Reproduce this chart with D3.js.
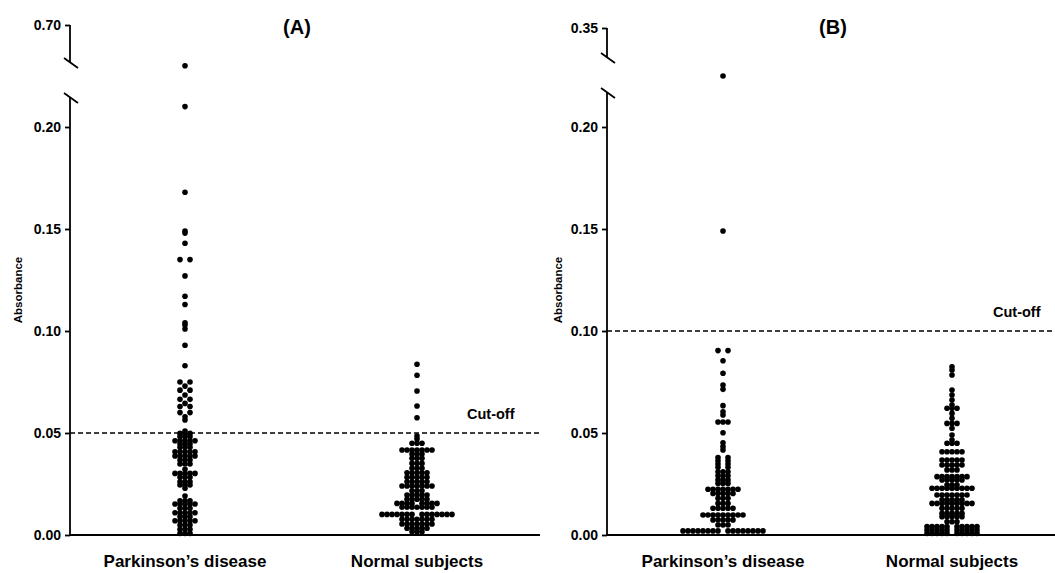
<!DOCTYPE html>
<html>
<head>
<meta charset="utf-8">
<script src="https://cdn.jsdelivr.net/npm/d3@7"></script>
<style>
  body { margin: 0; background: #fff; }
  text { font-family: "Liberation Sans", Arial, sans-serif; font-weight: bold; fill: #000; }
</style>
</head>
<body>
<svg width="1055" height="573"></svg>
<script>
// ---- data: rows of a dot plot (absorbance value, number of dots at that value) ----
var categories = ["Parkinson\u2019s disease", "Normal subjects"];
var yTicks = [0, 0.05, 0.10, 0.15, 0.20];

// panel A
var pdA_vals = [0.230, 0.210, 0.168, 0.149, 0.148, 0.143, 0.135, 0.127, 0.117, 0.113, 0.104, 0.103, 0.101, 0.093, 0.083,
  0.075, 0.073, 0.071, 0.0686, 0.0665, 0.0645, 0.063, 0.060, 0.058, 0.0564, 0.051, 0.0498, 0.0482, 0.0462, 0.0446, 0.043,
  0.0408, 0.0387, 0.0368, 0.0348, 0.0322, 0.0302, 0.0283, 0.0261, 0.0245, 0.0229, 0.0191, 0.0168, 0.0152, 0.0131, 0.0109,
  0.009, 0.007, 0.0049, 0.0028, 0.0008];
var pdA_counts = [1, 1, 1, 1, 1, 1, 2, 1, 1, 1, 1, 1, 1, 1, 1,
  2, 1, 2, 1, 2, 1, 2, 2, 1, 1, 1, 3, 3, 5, 3, 3,
  5, 5, 3, 3, 1, 5, 3, 3, 3, 1, 1, 3, 5, 3, 5,
  3, 5, 3, 3, 3];
var nsA_vals = [0.0837, 0.0783, 0.0706, 0.0632, 0.0575, 0.0485, 0.047, 0.045, 0.0417, 0.0397, 0.0376, 0.0351, 0.0327,
  0.0305, 0.0283, 0.0261, 0.024, 0.0217, 0.0196, 0.0175, 0.0155, 0.0136, 0.0101, 0.0077, 0.0054, 0.0033, 0.0016];
var nsA_counts = [1, 1, 1, 1, 1, 1, 1, 3, 7, 3, 3, 3, 3,
  5, 5, 5, 7, 3, 5, 5, 8, 7, 14, 7, 7, 5, 3];

// panel B
var pdB_vals = [0.225, 0.149, 0.0904, 0.0854, 0.0793, 0.0735, 0.0714, 0.0634, 0.0604, 0.0588, 0.0554, 0.0501, 0.0452,
  0.0433, 0.0417, 0.038, 0.0364, 0.0348, 0.0332, 0.031, 0.029, 0.027, 0.0253, 0.0224, 0.0204, 0.018, 0.0155, 0.0131,
  0.0098, 0.0074, 0.0049, 0.002];
var pdB_counts = [1, 1, 2, 1, 1, 1, 1, 1, 1, 1, 3, 1, 1,
  1, 1, 2, 2, 2, 2, 3, 3, 3, 3, 7, 5, 3, 3, 5,
  9, 5, 3, 16];
var nsB_vals = [0.0825, 0.0809, 0.0784, 0.0711, 0.0686, 0.0662, 0.0637, 0.0621, 0.0596, 0.0572, 0.0547, 0.0523, 0.049,
  0.0466, 0.045, 0.0408, 0.0368, 0.0343, 0.0319, 0.0286, 0.027, 0.0245, 0.0229, 0.0196, 0.0172, 0.0155, 0.0131, 0.0106,
  0.009, 0.0065, 0.0042, 0.0025, 0.0008];
var nsB_counts = [1, 1, 1, 1, 1, 1, 1, 3, 1, 1, 3, 1, 1,
  1, 3, 5, 5, 5, 3, 7, 5, 3, 9, 7, 5, 9, 5, 5,
  5, 3, 10, 10, 10];

var panels = [
  { title: "(A)", cutoff: 0.05, topTick: 0.70,
    groups: [[pdA_vals, pdA_counts], [nsA_vals, nsA_counts]],
    axisX: 70, right: 540, catRange: [185, 417], titleX: 297, labelX: 18,
    cutX: 467, topY: 25, upBreak: 58, lowBreak: 93, lowTop: 97 },
  { title: "(B)", cutoff: 0.10, topTick: 0.35,
    groups: [[pdB_vals, pdB_counts], [nsB_vals, nsB_counts]],
    axisX: 607, right: 1055, catRange: [723, 952], titleX: 833, labelX: 558,
    cutX: 993, topY: 28, upBreak: 53, lowBreak: 88, lowTop: 92 }
];

var svg = d3.select("svg");
var y = d3.scaleLinear().domain([0, 0.20]).range([535, 127]);
var r = 2.8, step = 5;

// spread dots of one row around the category centre
function rowOffsets(n) {
  var out = [];
  if (n % 2 === 1) {
    for (var i = 0; i < n; i++) out.push((i - (n - 1) / 2) * step);
  } else {
    for (var k = 1; k <= n / 2; k++) { out.push(-k * step); out.push(k * step); }
  }
  return out;
}

panels.forEach(function(p) {
  var g = svg.append("g");
  var x = d3.scalePoint().domain(categories).range(p.catRange);
  var yTop = d3.scaleLinear().domain([p.topTick - 0.05, p.topTick]).range([p.topY + 35, p.topY]);

  // lower axis
  g.append("line").attr("x1", p.axisX).attr("x2", p.axisX)
    .attr("y1", y(0)).attr("y2", p.lowTop)
    .attr("stroke", "#000").attr("stroke-width", 1.8);
  var ax = g.append("g").attr("transform", "translate(" + p.axisX + ",0)")
    .call(d3.axisLeft(y).tickValues(yTicks).tickFormat(d3.format(".2f")).tickSize(5).tickPadding(4));
  ax.select(".domain").remove();

  // upper segment above the break
  g.append("line").attr("x1", p.axisX).attr("x2", p.axisX)
    .attr("y1", p.topY).attr("y2", p.upBreak + 4.5)
    .attr("stroke", "#000").attr("stroke-width", 1.8);
  var axTop = g.append("g").attr("transform", "translate(" + p.axisX + ",0)")
    .call(d3.axisLeft(yTop).tickValues([p.topTick]).tickFormat(d3.format(".2f")).tickSize(5).tickPadding(4));
  axTop.select(".domain").remove();

  [ax, axTop].forEach(function(a) {
    a.selectAll(".tick line").attr("stroke", "#000").attr("stroke-width", 1.8);
    a.selectAll(".tick text").style("font-size", "14px").style("font-family", "Liberation Sans, Arial, sans-serif")
      .style("font-weight", "bold").attr("fill", "#000");
  });

  // break slashes
  [p.upBreak, p.lowBreak].forEach(function(b) {
    g.append("line").attr("x1", p.axisX - 6).attr("x2", p.axisX + 8)
      .attr("y1", b).attr("y2", b + 10)
      .attr("stroke", "#000").attr("stroke-width", 1.8);
  });

  // x axis
  g.append("line").attr("x1", p.axisX).attr("x2", p.right)
    .attr("y1", y(0)).attr("y2", y(0))
    .attr("stroke", "#000").attr("stroke-width", 2);

  // cut-off line
  g.append("line").attr("x1", p.axisX).attr("x2", p.right)
    .attr("y1", y(p.cutoff)).attr("y2", y(p.cutoff))
    .attr("stroke", "#000").attr("stroke-width", 1.5).attr("stroke-dasharray", "5,3");
  g.append("text").attr("x", p.cutX).attr("y", y(p.cutoff) - 14)
    .style("font-size", "14.5px").text("Cut-off");

  // titles
  g.append("text").attr("x", p.titleX).attr("y", 34).attr("text-anchor", "middle")
    .style("font-size", "20px").text(p.title);
  g.append("text").attr("transform", "translate(" + (p.labelX + 4) + ",290) rotate(-90)")
    .attr("text-anchor", "middle").style("font-size", "11.5px").text("Absorbance");

  // category labels
  g.selectAll(".cat").data(categories).enter().append("text")
    .attr("x", function(d) { return x(d); }).attr("y", 567)
    .attr("text-anchor", "middle").style("font-size", "17px").text(function(d) { return d; });

  // dots
  p.groups.forEach(function(grp, gi) {
    var dots = [];
    grp[0].forEach(function(v, i) {
      rowOffsets(grp[1][i]).forEach(function(o) { dots.push({ v: v, o: o }); });
    });
    g.append("g").selectAll("circle").data(dots).enter().append("circle")
      .attr("cx", function(d) { return x(categories[gi]) + d.o; })
      .attr("cy", function(d) { return y(d.v); })
      .attr("r", r).attr("fill", "#000");
  });
});
</script>
</body>
</html>
